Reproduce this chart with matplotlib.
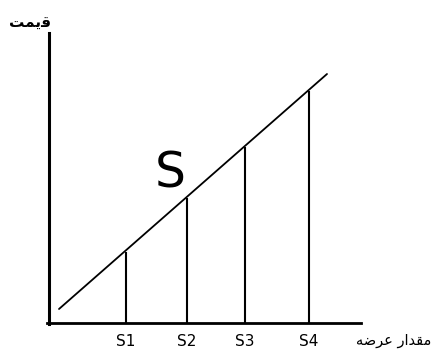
import matplotlib
matplotlib.use("Agg")
import matplotlib.pyplot as plt

# Supply curve end points (quantity, price), origin at the axis corner
supply_q = [10, 278]
supply_p = [14, 249]

# Quantities supplied S1..S4 and the matching prices on the curve
quantities = [77, 138, 196, 260]
prices = [71, 125, 176, 232]
q_labels = ["S1", "S2", "S3", "S4"]

# Arabic-script labels in visual (presentation-form) order
price_label = "\uFE96\uFEE4\uFBFE\uFED7"                          # قیمت
qty_label = "\uFEEA\uFEBF\uFEAE\uFECB \uFEAD\uFE8D\uFEAA\uFED8\uFEE3"  # مقدار عرضه

fig = plt.figure(figsize=(4.33, 3.51), dpi=100)
ax = fig.add_axes([0, 0, 1, 1])
ax.set_xlim(-49, 384)
ax.set_ylim(-28, 323)

# ── axes as spines through the origin ──
for side in ("top", "right"):
    ax.spines[side].set_visible(False)
ax.spines["left"].set_position(("data", 0))
ax.spines["bottom"].set_position(("data", 0))
ax.spines["left"].set_bounds(-1, 290)
ax.spines["bottom"].set_bounds(-2, 312)
ax.spines["left"].set_linewidth(2.2)
ax.spines["bottom"].set_linewidth(2.0)
ax.set_yticks([])
ax.set_xticks(quantities)
ax.set_xticklabels(q_labels, fontsize=11)
ax.tick_params(axis="x", length=0, pad=8)

# ── supply line + drop lines ──
ax.plot(supply_q, supply_p, color="black", linewidth=1.3, solid_capstyle="round")
ax.vlines(quantities, 0, prices, color="black", linewidth=1.5)

ax.text(121, 150, "S", fontsize=35, ha="center", va="center")
ax.text(-19, 300, price_label, fontsize=11, fontweight="bold",
        ha="center", va="center")
ax.text(382, -18, qty_label, fontsize=10.5, ha="right", va="center")

fig.savefig("out.png", dpi=100)
